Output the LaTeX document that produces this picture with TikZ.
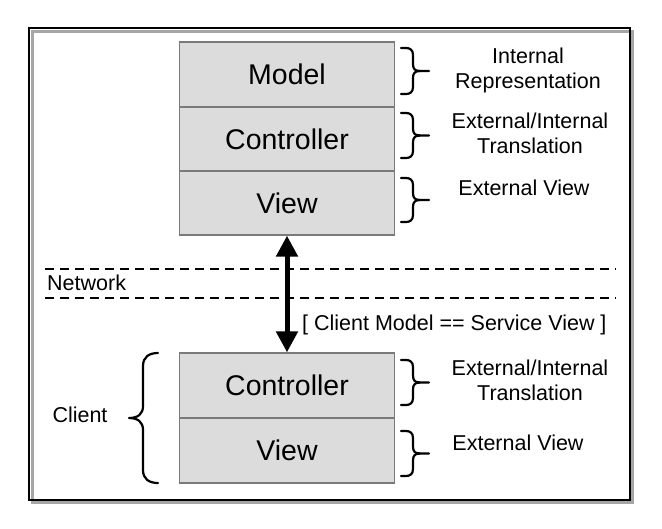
\documentclass[tikz,border=0pt]{standalone}
\usepackage{fontspec}
\setmainfont{Liberation Sans}
\usetikzlibrary{arrows.meta}
\definecolor{boxfill}{HTML}{DCDCDC}
\definecolor{boxline}{HTML}{7A7A7A}
\begin{document}
\begin{tikzpicture}[x=1pt,y=-1pt,
  layer/.style={draw=boxline,line width=1.3pt,fill=boxfill,minimum width=215pt,minimum height=65pt,inner sep=0pt,font=\fontsize{28.5}{31}\selectfont},
  lbl/.style={inner sep=0pt,align=center,font=\fontsize{21.5}{25}\selectfont},
  bracestroke/.style={line width=2.2pt,line cap=round,line join=round},
  netline/.style={line width=1.8pt,dash pattern=on 9pt off 6pt},
  pics/rb/.style={code={
    \draw[bracestroke] (0,0) -- (5,0) .. controls (9,0) and (12,2) .. (12,7)
      -- (12,{#1/2-7}) .. controls (12,{#1/2-2}) and (14,{#1/2}) .. (19,{#1/2}) -- (28,{#1/2});
    \draw[bracestroke] (19,{#1/2}) .. controls (14,{#1/2}) and (12,{#1/2+2}) .. (12,{#1/2+7})
      -- (12,{#1-7}) .. controls (12,{#1-2}) and (9,{#1}) .. (5,{#1}) -- (0,{#1});
  }},
  pics/lb/.style={code={
    \draw[bracestroke] (0,0) .. controls (-9,0) and (-15,4) .. (-15,13)
      -- (-15,{#1/2-12}) .. controls (-15,{#1/2-4}) and (-20,{#1/2}) .. (-29,{#1/2})
      .. controls (-20,{#1/2}) and (-15,{#1/2+4}) .. (-15,{#1/2+12})
      -- (-15,{#1-13}) .. controls (-15,{#1-4}) and (-9,{#1}) .. (0,{#1});
  }}]
\useasboundingbox (0,0) rectangle (662,528);
% frame with shadow
\draw[gray!70,line width=3pt] (32,31) rectangle (632.5,502.5);
\draw[line width=2pt] (29,28) rectangle (630,500);
% top stack
\node[layer,minimum height=65pt] (m) at (287,74.5) {Model};
\node[layer,minimum height=64pt] (c) at (287,139) {Controller};
\node[layer,minimum height=64pt] (v) at (287,203) {View};
% bottom stack
\node[layer,minimum height=65pt] (cc) at (287,385.5) {Controller};
\node[layer,minimum height=65pt] (cv) at (287,450.5) {View};
% network lines
\coordinate (n1a) at (45,269); \coordinate (n1b) at (616,269);
\coordinate (n2a) at (45,298); \coordinate (n2b) at (616,298);
\draw[netline] (n1a) -- (n1b);
\draw[netline] (n2a) -- (n2b);
\node[lbl,anchor=west] (net) at (47,283) {Network};
% arrow
\draw[line width=5pt,{Triangle[width=21pt,length=21pt]}-{Triangle[width=21pt,length=21pt]}] (v.south) -- (cc.north);
\node[lbl,anchor=west] (eq) at (302,325) {[ Client Model == Service View ]};
% right braces
\pic at (401,48) {rb=46};
\pic at (401,113) {rb=45};
\pic at (401,178) {rb=44};
\pic at (401,360) {rb=45};
\pic at (401,431) {rb=45};
\node[lbl] (l1) at (528,70) {Internal\\Representation};
\node[lbl] (l2) at (530,133) {External/Internal\\Translation};
\node[lbl] (l3) at (524,188) {External View};
\node[lbl] (l4) at (530,380) {External/Internal\\Translation};
\node[lbl] (l5) at (518,443) {External View};
% client brace
\pic at (158,353) {lb=130};
\node[lbl] (client) at (80,415) {Client};
\end{tikzpicture}
\end{document}
